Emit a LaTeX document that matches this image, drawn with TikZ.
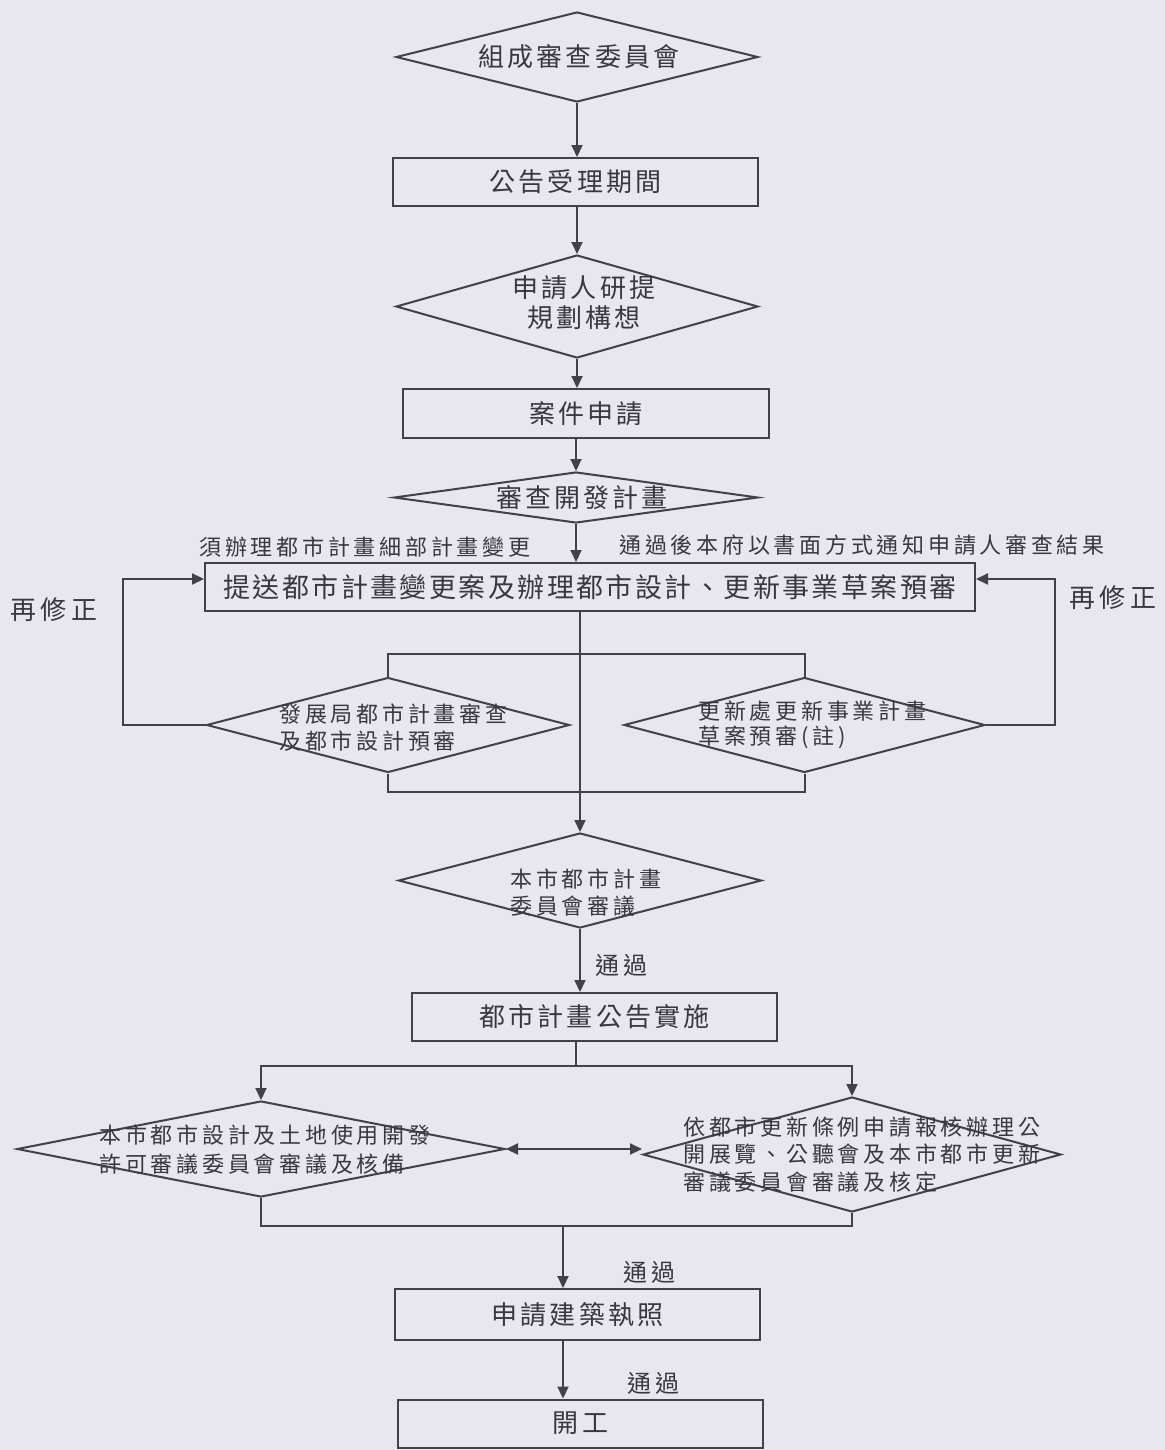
\documentclass[tikz,border=0pt]{standalone}
\usepackage{fontspec}
\usetikzlibrary{shapes.geometric,arrows.meta}
\newfontfamily\cjkA[LetterSpace=12]{Noto Sans CJK TC}
\newfontfamily\cjkB[LetterSpace=9]{Noto Sans CJK TC}
\newfontfamily\cjkC[LetterSpace=17]{Noto Sans CJK TC}
\newfontfamily\cjkD[LetterSpace=17]{Noto Sans CJK TC}
\definecolor{bg}{HTML}{E8E6EE}
\definecolor{lc}{HTML}{414146}
\definecolor{tc}{HTML}{38383D}
\begin{document}
\begin{tikzpicture}[x=0.5pt,y=-0.5pt,
  box/.style={draw=lc, line width=1pt, rectangle, inner sep=0pt, text=tc, font=\cjkA\fontsize{13pt}{15pt}\selectfont},
  dia/.style={draw=lc, line width=1pt, shape=diamond, aspect=1, inner sep=0pt},
  txtA/.style={inner sep=0pt, text=tc, font=\cjkA\fontsize{13pt}{15pt}\selectfont},
  txtC/.style={inner sep=0pt, text=tc, font=\cjkC\fontsize{11pt}{13.5pt}\selectfont},
  txtD/.style={inner sep=0pt, text=tc, font=\cjkD\fontsize{12pt}{14pt}\selectfont},
  arr/.style={draw=lc, line width=1pt, -{Triangle[length=6pt,width=5.5pt]}},
  arr2/.style={draw=lc, line width=1pt, {Triangle[length=6pt,width=5.5pt]}-{Triangle[length=6pt,width=5.5pt]}},
  ln/.style={draw=lc, line width=1pt}]
\fill[bg] (0,0) rectangle (1165,1450);
\useasboundingbox (0,0) rectangle (1165,1450);

% main column
\node[dia, minimum width=181pt, minimum height=45pt] (d1) at (577,57) {};
\node[txtA] (t1) at (579,57) {組成審查委員會};
\node[box, minimum width=182.5pt, minimum height=24pt] (b2) at (575.5,182) {公告受理期間};
\node[dia, minimum width=181pt, minimum height=51.5pt] (d3) at (577,306.5) {};
\node[txtA, align=center] (t3) at (584,303) {申請人研提\\規劃構想};
\node[box, minimum width=183pt, minimum height=24.5pt] (b4) at (586,413.5) {案件申請};
\node[dia, minimum width=182pt, minimum height=25.5pt] (d5) at (576,497.5) {};
\node[txtA] (t5) at (582,498) {審查開發計畫};
\node[box, minimum width=385pt, minimum height=24pt, font=\cjkB\fontsize{13.5pt}{16pt}\selectfont] (b6) at (590,587) {提送都市計畫變更案及辦理都市設計、更新事業草案預審};

\node[txtC, anchor=west] (lab1) at (199,547) {須辦理都市計畫細部計畫變更};
\node[txtC, anchor=west] (lab2) at (619,545) {通過後本府以書面方式通知申請人審查結果};

% review diamonds
\node[dia, minimum width=181.5pt, minimum height=47.5pt] (dL) at (388,725) {};
\node[txtC, anchor=west, align=left] (tL) at (279,728) {發展局都市計畫審查\\及都市設計預審};
\node[dia, minimum width=180.5pt, minimum height=47.5pt] (dR) at (804.5,725) {};
\node[txtC, anchor=west, align=left, font=\cjkC\fontsize{11pt}{12.5pt}\selectfont] (tR) at (698,724.5) {更新處更新事業計畫\\草案預審(註)};

\node[txtD, anchor=west, font=\cjkD\fontsize{13pt}{15pt}\selectfont] (rev1) at (10,610) {再修正};
\node[txtD, anchor=west, font=\cjkD\fontsize{13pt}{15pt}\selectfont] (rev2) at (1069,598) {再修正};

\node[dia, minimum width=181.5pt, minimum height=47.5pt] (d7) at (580,880.5) {};
\node[txtC, anchor=west, align=left] (t7) at (510,893) {本市都市計畫\\委員會審議};

\node[box, minimum width=182.5pt, minimum height=24pt] (b8) at (594.5,1017) {都市計畫公告實施};

\node[dia, minimum width=244pt, minimum height=48pt] (dLL) at (261,1149) {};
\node[txtC, anchor=west, align=left, font=\cjkC\fontsize{11pt}{14.5pt}\selectfont] (tLL) at (99,1150) {本市都市設計及土地使用開發\\許可審議委員會審議及核備};
\node[dia, minimum width=209pt, minimum height=57.5pt] (dRR) at (852,1154.5) {};
\node[txtC, anchor=west, align=left, font=\cjkC\fontsize{11pt}{13.75pt}\selectfont] (tRR) at (683,1154.5) {依都市更新條例申請報核辦理公\\開展覽、公聽會及本市都市更新\\審議委員會審議及核定};

\node[box, minimum width=182.5pt, minimum height=25.5pt] (b9) at (577.5,1314.5) {申請建築執照};
\node[box, minimum width=182.5pt, minimum height=24pt] (b10) at (580.5,1423.5) {開工};

\node[txtD, anchor=west] (p1) at (595,965) {通過};
\node[txtD, anchor=west] (p2) at (623,1272) {通過};
\node[txtD, anchor=west] (p3) at (627,1383) {通過};

% helper coordinates
\coordinate (lp) at (123,579);
\coordinate (rp) at (1055,579);
\coordinate (m1) at (580,654);
\coordinate (m2) at (580,792);
\coordinate (s1) at (576,1066);
\coordinate (s2) at (563,1226);

% connectors
\draw[arr] (d1.south) -- (d1.south |- b2.north);
\draw[arr] (d3.north |- b2.south) -- (d3.north);
\draw[arr] (d3.south) -- (d3.south |- b4.north);
\draw[arr] (d5.north |- b4.south) -- (d5.north);
\draw[arr] (d5.south) -- (d5.south |- b6.north);
\draw[arr] (m1 |- b6.south) -- (m1 |- d7.north);
\draw[ln] (dL.north) |- (dR.north |- m1) -- (dR.north);
\draw[ln] (dL.south) |- (dR.south |- m2) -- (dR.south);
\draw[arr] (dL.west) -| (lp) -- (lp -| b6.west);
\draw[arr] (dR.east) -| (rp) -- (rp -| b6.east);
\draw[arr] (d7.south) -- (d7.south |- b8.north);
\draw[ln] (s1 |- b8.south) -- (s1);
\draw[arr] (s1) -| (dLL.north);
\draw[arr] (s1) -| (dRR.north);
\draw[arr2] (dLL.east) -- (dLL.east -| dRR.west);
\draw[ln] (dLL.south) |- (dRR.south |- s2) -- (dRR.south);
\draw[arr] (s2) -- (s2 |- b9.north);
\draw[arr] (s2 |- b9.south) -- (s2 |- b10.north);
\end{tikzpicture}
\end{document}
